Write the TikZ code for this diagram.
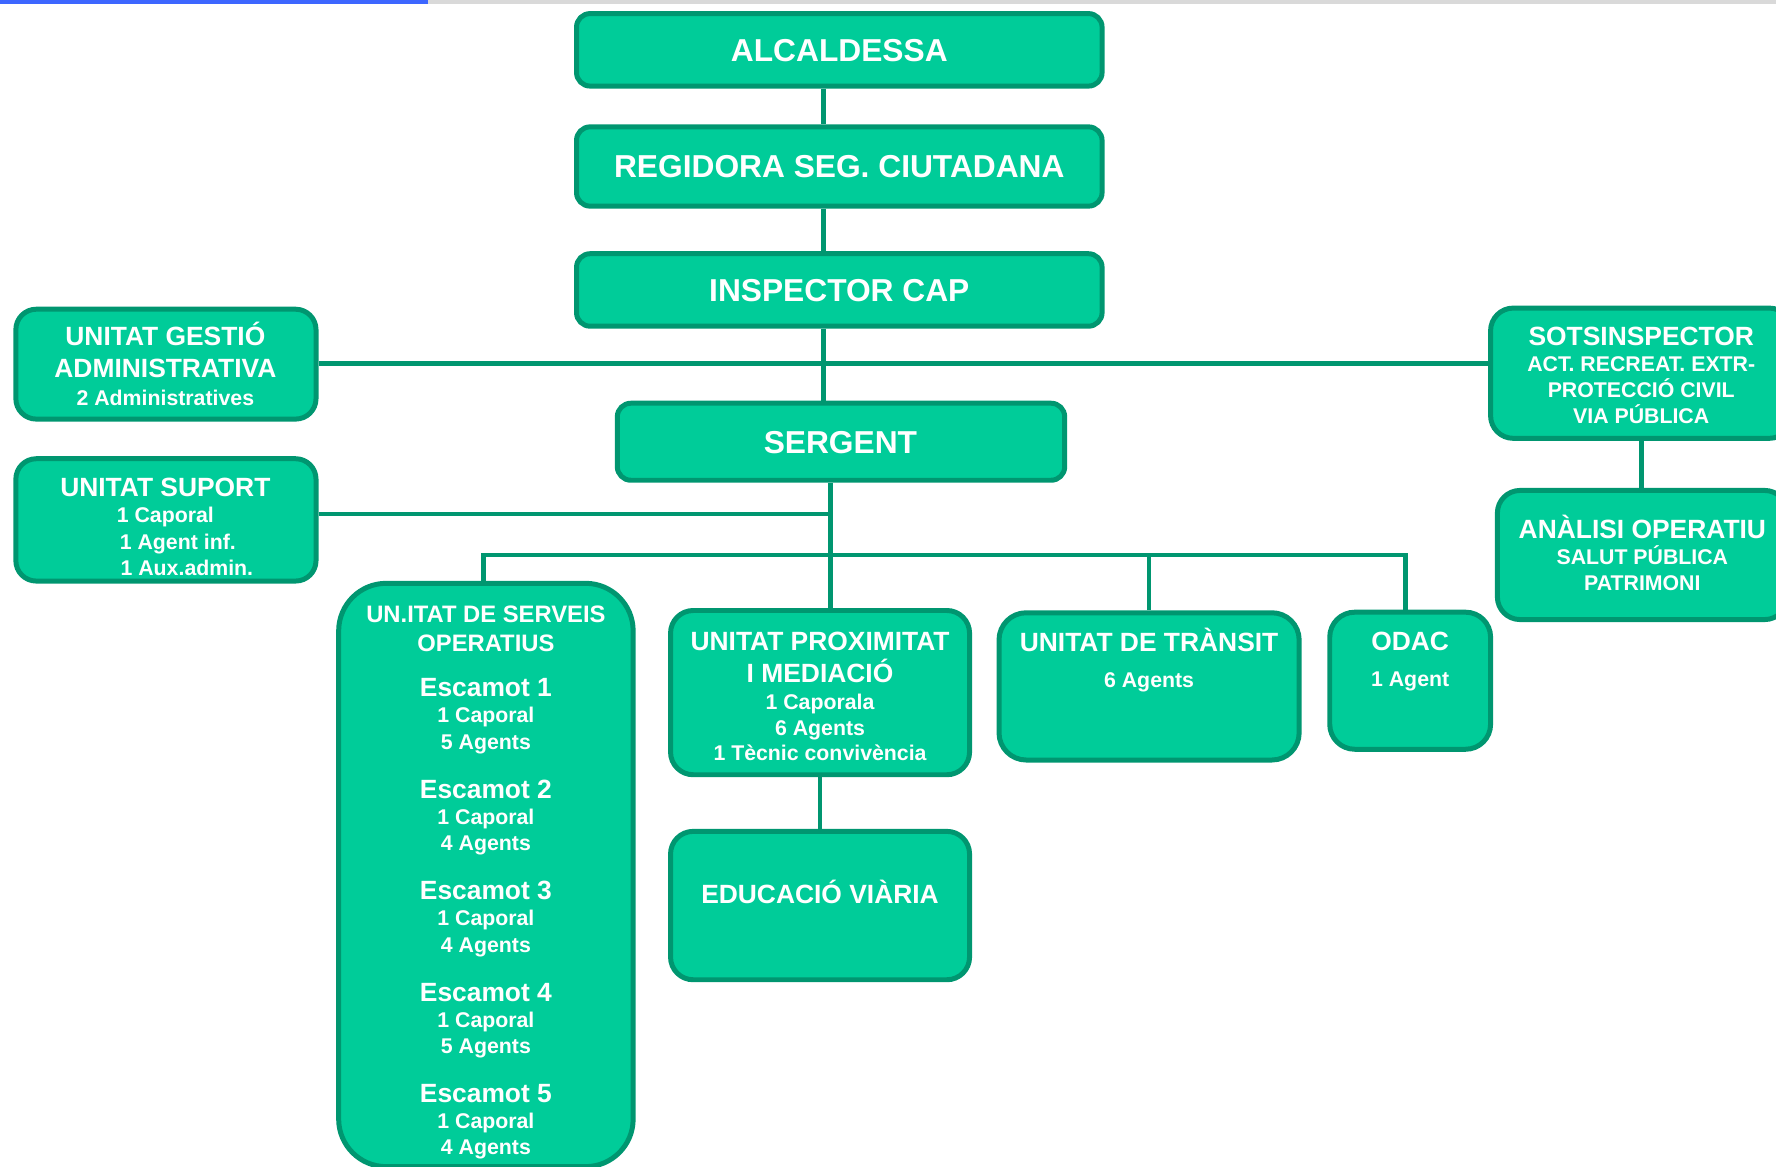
\documentclass[tikz,border=0pt]{standalone}
\usepackage{fontspec}
\setmainfont{Liberation Sans}
\definecolor{unitfill}{RGB}{0,204,153}
\definecolor{unitline}{RGB}{0,150,112}
\definecolor{barblue}{RGB}{61,102,255}
\definecolor{bargray}{RGB}{217,217,217}
\newcommand{\fBig}{\fontsize{28}{32}\selectfont}
\newcommand{\fHead}{\fontsize{23.3}{23}\selectfont}
\newcommand{\fMid}{\fontsize{21}{23}\selectfont}
\newcommand{\fSub}{\fontsize{18.8}{23}\selectfont}

\begin{document}
\begin{tikzpicture}
  [
    x=1pt, y=-1pt,
    Box/.style={rectangle, draw=unitline, fill=unitfill, line width=4.4pt, rounded corners=20pt, inner sep=0pt},
    Link/.style={draw=unitline, line width=4pt},
    Big/.style={anchor=base, text=white, font=\bfseries\fBig},
    Txt/.style={anchor=base, text=white, align=center, font=\bfseries\fSub}
  ]
  \useasboundingbox (0,0) rectangle (1568,1030);
  \fill[barblue] (0,0) rectangle (378,3.5);
  \fill[bargray] (378,0) rectangle (1568,3.5);
  % Nodes
  \node[Box, rounded corners=12pt, minimum width=464, minimum height=64] (alc) at (741,44) {};
  \node[Box, rounded corners=12pt, minimum width=464, minimum height=70] (reg) at (741,147) {};
  \node[Box, rounded corners=12pt, minimum width=464, minimum height=64] (insp) at (741,256) {};
  \node[Box, rounded corners=12pt, minimum width=395, minimum height=68] (serg) at (742.5,390) {};
  \node[Box, rounded corners=18pt, minimum width=265, minimum height=97] (gestio) at (146.5,321.5) {};
  \node[Box, rounded corners=18pt, minimum width=265, minimum height=108] (suport) at (146.5,459) {};
  \node[Box, minimum width=266, minimum height=115] (sots) at (1449,329.5) {};
  \node[Box, minimum width=256, minimum height=114] (anal) at (1450,490) {};
  \node[Box, rounded corners=42pt, minimum width=260, minimum height=515] (serveis) at (429,772.5) {};
  \node[Box, minimum width=264, minimum height=145] (prox) at (724,611.5) {};
  \node[Box, minimum width=264, minimum height=131] (educ) at (724,799.5) {};
  \node[Box, rounded corners=24pt, minimum width=265, minimum height=130] (transit) at (1014.5,606) {};
  \node[Box, rounded corners=22pt, minimum width=142, minimum height=121] (odac) at (1245,601) {};
  % Texts
  \node[Big] (alcT) at (741,54) {ALCALDESSA};
  \node[Big] (regT) at (741,157) {REGIDORA SEG. CIUTADANA};
  \node[Big] (inspT) at (741,266) {INSPECTOR CAP};
  \node[Big] (sergT) at (742,400) {SERGENT};
  \node[Txt] (gestioT) at (146,357.7) {{\fHead UNITAT GESTIÓ}\\[5pt]{\fHead ADMINISTRATIVA}\\[1.3pt]2 Administratives};
  \node[Txt] (suportT) at (146,507.7) {{\fHead UNITAT SUPORT}\\1 Caporal\\\hspace*{22pt}1 Agent inf.\\\hspace*{38pt}1 Aux.admin.};
  \node[Txt] (sotsT) at (1449,373.7) {{\fHead SOTSINSPECTOR}\\ACT. RECREAT. EXTR-\\PROTECCIÓ CIVIL\\VIA PÚBLICA};
  \node[Txt] (analT) at (1450,521.7) {{\fHead ANÀLISI OPERATIU}\\SALUT PÚBLICA\\PATRIMONI};
  \node[Txt] (serveisT) at (429,1019.7) {{\fMid UN.ITAT DE SERVEIS}\\[3pt]{\fMid OPERATIUS}\\[16.8pt]%
    {\fHead Escamot 1}\\1 Caporal\\5 Agents\\[20.6pt]%
    {\fHead Escamot 2}\\1 Caporal\\4 Agents\\[20.6pt]%
    {\fHead Escamot 3}\\1 Caporal\\4 Agents\\[20.6pt]%
    {\fHead Escamot 4}\\1 Caporal\\5 Agents\\[20.6pt]%
    {\fHead Escamot 5}\\1 Caporal\\4 Agents};
  \node[Txt] (proxT) at (724,671.7) {{\fHead UNITAT PROXIMITAT}\\[5pt]{\fHead I MEDIACIÓ}\\[1.4pt]1 Caporala\\6 Agents\\[-1pt]1 Tècnic convivència};
  \node[Txt] (educT) at (724,797.3) {{\fHead EDUCACIÓ VIÀRIA}};
  \node[Txt] (transitT) at (1014.5,606.7) {{\fHead UNITAT DE TRÀNSIT}\\[8.4pt]6 Agents};
  \node[Txt] (odacT) at (1245,605.7) {{\fHead ODAC}\\[8.4pt]1 Agent};
  % Lines
  \coordinate (spine) at (727,0);
  \coordinate (bus) at (733,0);
  \coordinate (admJ) at (727,321);
  \coordinate (supJ) at (733,454);
  \coordinate (busL) at (427,490);
  \coordinate (busR) at (1241,490);
  \path [Link] (alc.south -| spine) -- (reg.north -| spine);
  \path [Link] (reg.south -| spine) -- (insp.north -| spine);
  \path [Link] (insp.south -| spine) -- (serg.north -| spine);
  \path [Link] (admJ -| gestio.east) -- (admJ -| sots.west);
  \path [Link] (serg.south -| bus) -- (prox.north -| bus);
  \path [Link] (supJ -| suport.east) -- (supJ);
  \path [Link] (serveis.north -| busL) -- (busL) -- (busR) -- (odac.north -| busR);
  \path [Link] (transit.north) -- (transit.north |- busR);
  \path [Link] (prox.south) -- (educ.north);
  \path [Link] (sots.south) -- (anal.north -| sots.south);
\end{tikzpicture}
\end{document}
